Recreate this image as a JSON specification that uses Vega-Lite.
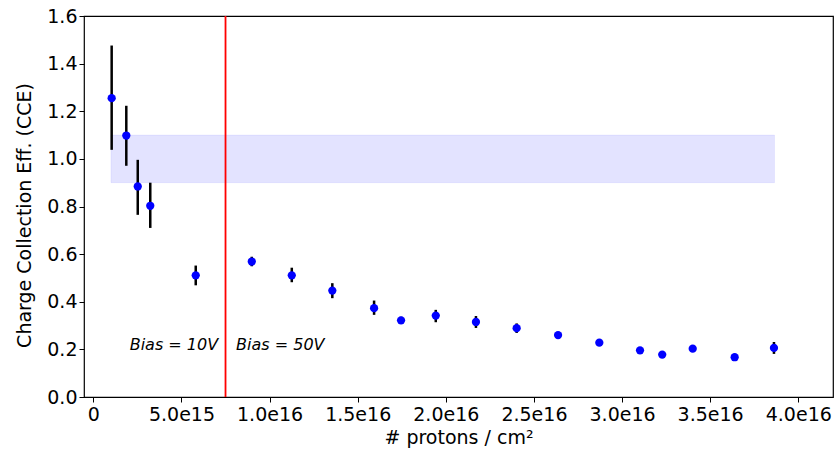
{
  "$schema": "https://vega.github.io/schema/vega-lite/v6.json",
  "autosize": "none",
  "width": 749,
  "height": 381,
  "padding": {"left": 84, "top": 16, "right": 3, "bottom": 53},
  "background": "white",
  "config": {
    "font": "DejaVu Sans",
    "view": {"stroke": "#000000", "strokeWidth": 1.2},
    "axis": {
      "grid": false,
      "domain": false,
      "tickColor": "#000000",
      "tickSize": 5,
      "tickWidth": 1,
      "labelColor": "#000000",
      "labelFont": "DejaVu Sans",
      "labelFontSize": 19,
      "titleFont": "DejaVu Sans",
      "titleFontSize": 19,
      "titleFontWeight": "normal",
      "titleColor": "#000000"
    }
  },
  "datasets": {
    "pts": [
      {"x": 1.04e15, "y": 1.255, "lo": 1.038, "hi": 1.476},
      {"x": 1.87e15, "y": 1.098, "lo": 0.971, "hi": 1.223},
      {"x": 2.52e15, "y": 0.884, "lo": 0.765, "hi": 0.996},
      {"x": 3.23e15, "y": 0.803, "lo": 0.71, "hi": 0.9},
      {"x": 5.81e15, "y": 0.511, "lo": 0.469, "hi": 0.552},
      {"x": 8.99e15, "y": 0.569, "lo": 0.549, "hi": 0.589},
      {"x": 1.126e16, "y": 0.511, "lo": 0.482, "hi": 0.543},
      {"x": 1.356e16, "y": 0.447, "lo": 0.415, "hi": 0.478},
      {"x": 1.593e16, "y": 0.373, "lo": 0.345, "hi": 0.405},
      {"x": 1.746e16, "y": 0.322, "lo": 0.307, "hi": 0.337},
      {"x": 1.943e16, "y": 0.342, "lo": 0.314, "hi": 0.366},
      {"x": 2.171e16, "y": 0.315, "lo": 0.29, "hi": 0.34},
      {"x": 2.402e16, "y": 0.289, "lo": 0.269, "hi": 0.309},
      {"x": 2.637e16, "y": 0.26, "lo": 0.252, "hi": 0.268},
      {"x": 2.871e16, "y": 0.228, "lo": 0.222, "hi": 0.234},
      {"x": 3.102e16, "y": 0.196, "lo": 0.19, "hi": 0.202},
      {"x": 3.228e16, "y": 0.178, "lo": 0.172, "hi": 0.184},
      {"x": 3.401e16, "y": 0.203, "lo": 0.197, "hi": 0.209},
      {"x": 3.639e16, "y": 0.167, "lo": 0.161, "hi": 0.173},
      {"x": 3.862e16, "y": 0.206, "lo": 0.181, "hi": 0.231}
    ]
  },
  "layer": [
    {
      "data": {"values": [{"x": 1.0e15, "x2": 3.865e16, "y": 0.9, "y2": 1.1}]},
      "mark": {"type": "rect", "fill": "#0000ff", "fillOpacity": 0.11, "stroke": "#0000ff", "strokeOpacity": 0.06, "strokeWidth": 1},
      "encoding": {
        "x": {"field": "x", "type": "quantitative", "scale": {"domain": [-5.3e14, 4.197e16], "nice": false, "zero": false},
          "axis": {"values": [0, 5e15, 1e16, 1.5e16, 2e16, 2.5e16, 3e16, 3.5e16, 4e16],
            "labelExpr": "datum.value == 0 ? '0' : replace(format(datum.value, '.1e'), '+', '')",
            "title": "# protons / cm²", "titlePadding": 4, "labelPadding": 3}},
        "x2": {"field": "x2"},
        "y": {"field": "y", "type": "quantitative", "scale": {"domain": [0, 1.6], "nice": false},
          "axis": {"values": [0, 0.2, 0.4, 0.6, 0.8, 1.0, 1.2, 1.4, 1.6], "format": ".1f",
            "title": "Charge Collection Eff. (CCE)", "titlePadding": 12, "labelPadding": 2, "titleY": 199}},
        "y2": {"field": "y2"}
      }
    },
    {
      "data": {"values": [{"x": 7.5e15}]},
      "mark": {"type": "rule", "color": "#ff0000", "strokeWidth": 1.8},
      "encoding": {"x": {"field": "x", "type": "quantitative"}}
    },
    {
      "data": {"name": "pts"},
      "mark": {"type": "rule", "color": "#000000", "strokeWidth": 2.5},
      "encoding": {
        "x": {"field": "x", "type": "quantitative"},
        "y": {"field": "lo", "type": "quantitative"},
        "y2": {"field": "hi"}
      }
    },
    {
      "data": {"name": "pts"},
      "mark": {"type": "point", "filled": true, "color": "#0000ff", "opacity": 1, "size": 68},
      "encoding": {
        "x": {"field": "x", "type": "quantitative"},
        "y": {"field": "y", "type": "quantitative"}
      }
    },
    {
      "data": {"values": [
        {"x": 7.08e15, "y": 0.22, "label": "Bias = 10V"}
      ]},
      "mark": {"type": "text", "align": "right", "baseline": "middle", "fontStyle": "italic", "fontSize": 16, "color": "#000000", "font": "DejaVu Sans"},
      "encoding": {
        "x": {"field": "x", "type": "quantitative"},
        "y": {"field": "y", "type": "quantitative"},
        "text": {"field": "label"}
      }
    },
    {
      "data": {"values": [
        {"x": 8.1e15, "y": 0.22, "label": "Bias = 50V"}
      ]},
      "mark": {"type": "text", "align": "left", "baseline": "middle", "fontStyle": "italic", "fontSize": 16, "color": "#000000", "font": "DejaVu Sans"},
      "encoding": {
        "x": {"field": "x", "type": "quantitative"},
        "y": {"field": "y", "type": "quantitative"},
        "text": {"field": "label"}
      }
    }
  ]
}
